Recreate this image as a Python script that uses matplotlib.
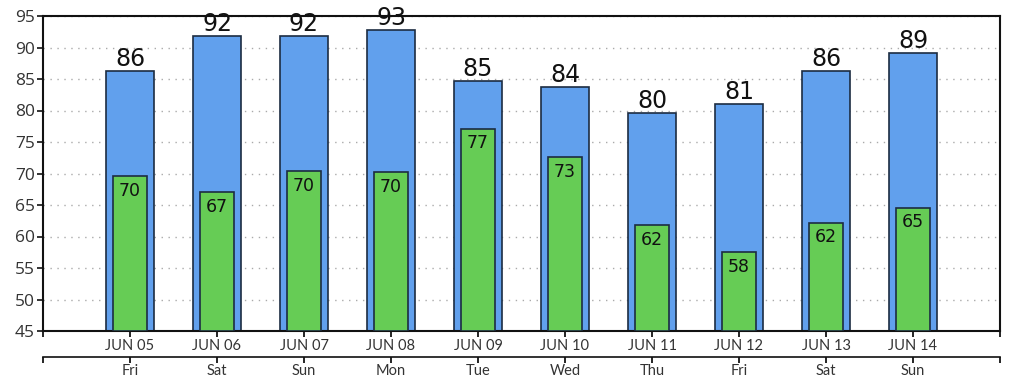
import matplotlib
matplotlib.use("Agg")
import matplotlib.pyplot as plt
import numpy as np

dates = ["JUN 05", "JUN 06", "JUN 07", "JUN 08", "JUN 09", "JUN 10", "JUN 11", "JUN 12", "JUN 13", "JUN 14"]
days = ["Fri", "Sat", "Sun", "Mon", "Tue", "Wed", "Thu", "Fri", "Sat", "Sun"]
highs = [86.2, 91.8, 91.8, 92.8, 84.7, 83.7, 79.6, 81.0, 86.2, 89.2]
lows = [69.6, 67.0, 70.4, 70.2, 77.1, 72.6, 61.8, 57.5, 62.2, 64.6]

blue = "#61a0ed"
green = "#66cc55"
edge = "#1c2c42"

fig = plt.figure(figsize=(10.24, 3.79), dpi=100)
ax = fig.add_axes([43/1024, 1-331/379, (1000-43)/1024, (331-16)/379])

x = np.arange(len(dates))
ax.bar(x, [h - 45 for h in highs], bottom=45, width=0.55, color=blue, edgecolor=edge, linewidth=1.2, zorder=2)
ax.bar(x, [l - 45 for l in lows], bottom=45, width=0.40, color=green, edgecolor=edge, linewidth=1.2, zorder=3)

for xi, h in zip(x, highs):
    ax.annotate(f"{h:.0f}", (xi, h), xytext=(0, 0), textcoords="offset points",
                ha="center", va="bottom", fontsize=17, family="DejaVu Sans", color="#111111", zorder=4)
for xi, l in zip(x, lows):
    ax.annotate(f"{l:.0f}", (xi, l), xytext=(0, -4), textcoords="offset points",
                ha="center", va="top", fontsize=12.5, family="DejaVu Sans", color="#111111", zorder=4)

ax.set_xlim(-1, 10)
ax.set_ylim(45, 95)
ax.set_yticks(np.arange(45, 96, 5))
ax.yaxis.grid(True, linestyle=(0, (1, 4)), color="#aaaaaa", linewidth=1.0, zorder=0)
ax.set_axisbelow(True)
ax.tick_params(axis="y", labelsize=12.5, length=4, width=1.2, colors="#111111", labelcolor="#333333", pad=2)
for t in ax.get_yticklabels():
    t.set_family("Open Sans")

ax.set_xticks(x)
ax.set_xticklabels(dates, family="Lato", fontsize=10.5, color="#333333")
ax.set_xticks([-1, 10], minor=True)
ax.tick_params(axis="x", which="both", length=4, width=1.2, pad=2)
for s in ax.spines.values():
    s.set_linewidth(1.5)
    s.set_color("#111111")

ax2 = ax.twiny()
ax2.set_xlim(ax.get_xlim())
ax2.xaxis.set_ticks_position("bottom")
ax2.xaxis.set_label_position("bottom")
ax2.spines["bottom"].set_position(("outward", 19))
for k in ["top", "left", "right"]:
    ax2.spines[k].set_visible(False)
ax2.spines["bottom"].set_linewidth(1.2)
ax2.spines["bottom"].set_color("#111111")
ax2.set_xticks(x)
ax2.set_xticklabels(days, family="Lato", fontsize=10.5, color="#333333")
ax2.set_xticks([-1, 10], minor=True)
ax2.tick_params(axis="x", which="both", length=4, width=1.2, pad=1)

fig.savefig("out.png", dpi=100)
